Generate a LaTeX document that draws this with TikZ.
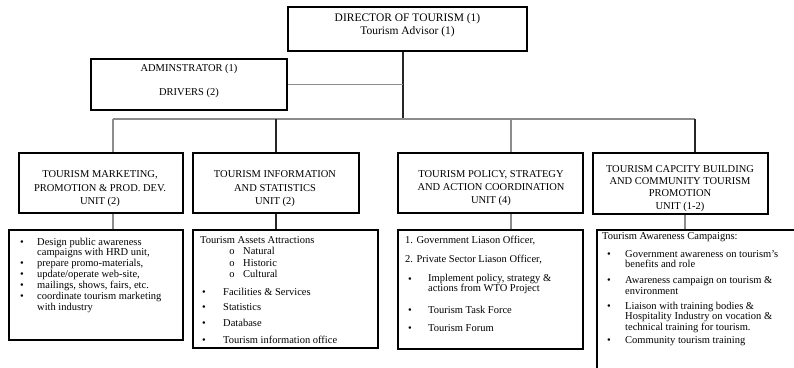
\documentclass[tikz,border=0pt]{standalone}
\usepackage{fontspec}
\setmainfont{Liberation Serif}
\begin{document}
\begin{tikzpicture}[x=1pt,y=-1pt,
 box/.style={draw=black, line width=1.5pt, rectangle, inner sep=0pt},
 dirtxt/.style={font=\fontsize{11.5}{12}\selectfont, anchor=mid, inner sep=0pt},
 hd/.style={font=\fontsize{10.5}{12}\selectfont, anchor=mid, inner sep=0pt},
 tx/.style={font=\fontsize{10.5}{11}\selectfont, anchor=mid west, inner sep=0pt},
 bl/.style={font=\fontsize{10.5}{11}\selectfont, anchor=mid, inner sep=0pt},
 gline/.style={draw=black!45, line width=1.5pt},
 kline/.style={draw=black!85, line width=1.2pt}]
\clip (0,0) rectangle (794,367);
\fill[white] (0,0) rectangle (794,367);

% boxes
\node[box, minimum width=239pt, minimum height=44pt] (dir) at (407.5,29) {};
\node[box, minimum width=196pt, minimum height=51pt] (adm) at (189,84.5) {};
\node[box, minimum width=164pt, minimum height=60pt] (u1) at (101,183) {};
\node[box, minimum width=166pt, minimum height=60pt] (u2) at (276,183) {};
\node[box, minimum width=185pt, minimum height=60pt] (u3) at (490.5,183) {};
\node[box, minimum width=175pt, minimum height=61pt] (u4) at (680.5,183.5) {};
\node[box, minimum width=174pt, minimum height=110pt] (b1) at (96,285) {};
\node[box, minimum width=185pt, minimum height=118pt] (b2) at (285.5,289) {};
\node[box, minimum width=185pt, minimum height=119pt] (b3) at (490.5,289.5) {};
\node[box, minimum width=213pt, minimum height=160pt] (b4) at (703.5,310) {};

% connectors
\coordinate (dl) at (403,119);
\coordinate (j1) at (113,119);
\coordinate (j2) at (276,119);
\coordinate (j3) at (511,119);
\coordinate (j4) at (695,119);
\coordinate (k4) at (685,222);
\draw[kline] (dir.south -| dl) -- (dl);
\draw[gline] (adm.east) -- (adm.east -| dl);
\draw[gline] (j1) -- (j4);
\draw[gline] (j1) -- (j1 |- u1.north);
\draw[kline] (j2) -- (j2 |- u2.north);
\draw[gline] (j3) -- (j3 |- u3.north);
\draw[kline] (j4) -- (j4 |- u4.north);
\draw[gline] (u1.south -| j1) -- (b1.north -| j1);
\draw[kline] (u2.south -| j2) -- (b2.north -| j2);
\draw[gline] (u3.south -| j3) -- (b3.north -| j3);
\draw[gline] (u4.south -| k4) -- (b4.north -| k4);

% top texts
\node[dirtxt] (dir1) at (407.5,19) {DIRECTOR OF TOURISM (1)};
\node[dirtxt] (dir2) at (407.5,32) {Tourism Advisor (1)};
\node[hd] (adm1) at (189,69) {ADMINSTRATOR (1)};
\node[hd] (adm2) at (189,93) {DRIVERS (2)};

% unit headers
\node[hd] (u1a) at (100,175) {TOURISM MARKETING,};
\node[hd] (u1b) at (100,189) {PROMOTION \& PROD. DEV.};
\node[hd] (u1c) at (100,202) {UNIT (2)};
\node[hd] (u2a) at (275,175) {TOURISM INFORMATION};
\node[hd] (u2b) at (275,189) {AND STATISTICS};
\node[hd] (u2c) at (275,202) {UNIT (2)};
\node[hd] (u3a) at (491,175) {TOURISM POLICY, STRATEGY};
\node[hd] (u3b) at (491,188) {AND ACTION COORDINATION};
\node[hd] (u3c) at (491,201) {UNIT (4)};
\node[hd] (u4a) at (680,170) {TOURISM CAPCITY BUILDING};
\node[hd] (u4b) at (680,182) {AND COMMUNITY TOURISM};
\node[hd] (u4c) at (680,194) {PROMOTION};
\node[hd] (u4d) at (680,207) {UNIT (1-2)};

% box 1
\node[bl] (p1) at (22,243) {•};
\node[tx] (t1a) at (37,243) {Design public awareness};
\node[tx] (t1b) at (37,253.5) {campaigns with HRD unit,};
\node[bl] (p2) at (22,264.5) {•};
\node[tx] (t1c) at (37,264.5) {prepare promo-materials,};
\node[bl] (p3) at (22,275.5) {•};
\node[tx] (t1d) at (37,275.5) {update/operate web-site,};
\node[bl] (p4) at (22,286.5) {•};
\node[tx] (t1e) at (37,286.5) {mailings, shows, fairs, etc.};
\node[bl] (p5) at (22,297.5) {•};
\node[tx] (t1f) at (37,297.5) {coordinate tourism marketing};
\node[tx] (t1g) at (37,308) {with industry};

% box 2
\node[tx] (t2a) at (200,241) {Tourism Assets Attractions};
\node[bl] (o1) at (232,252.5) {o};
\node[tx] (t2b) at (243,252.5) {Natural};
\node[bl] (o2) at (232,264) {o};
\node[tx] (t2c) at (243,264) {Historic};
\node[bl] (o3) at (232,275.5) {o};
\node[tx] (t2d) at (243,275.5) {Cultural};
\node[bl] (q1) at (204,293) {•};
\node[tx] (t2e) at (223,293) {Facilities \& Services};
\node[bl] (q2) at (204,308) {•};
\node[tx] (t2f) at (223,308) {Statistics};
\node[bl] (q3) at (204,324) {•};
\node[tx] (t2g) at (223,324) {Database};
\node[bl] (q4) at (204,341) {•};
\node[tx] (t2h) at (223,341) {Tourism information office};

% box 3
\node[tx] (t3a) at (405,241) {1. Government Liason Officer,};
\node[tx] (t3b) at (405,260) {2. Private Sector Liason Officer,};
\node[bl] (r1) at (410,280) {•};
\node[tx] (t3c) at (428,279) {Implement policy, strategy \&};
\node[tx] (t3d) at (428,289.5) {actions from WTO Project};
\node[bl] (r2) at (410,311) {•};
\node[tx] (t3e) at (428,311) {Tourism Task Force};
\node[bl] (r3) at (410,329) {•};
\node[tx] (t3f) at (428,329) {Tourism Forum};

% box 4
\node[tx] (t4a) at (602,237) {Tourism Awareness Campaigns:};
\node[bl] (s1) at (609,255) {•};
\node[tx] (t4b) at (625,255) {Government awareness on tourism's};
\node[tx] (t4c) at (625,265.5) {benefits and role};
\node[bl] (s2) at (609,281.5) {•};
\node[tx] (t4d) at (625,281.5) {Awareness campaign on tourism \&};
\node[tx] (t4e) at (625,292) {environment};
\node[bl] (s3) at (609,307) {•};
\node[tx] (t4f) at (625,307) {Liaison with training bodies \&};
\node[tx] (t4g) at (625,317.5) {Hospitality Industry on vocation \&};
\node[tx] (t4h) at (625,328) {technical training for tourism.};
\node[bl] (s4) at (609,341.5) {•};
\node[tx] (t4i) at (625,341.5) {Community tourism training};
\end{tikzpicture}
\end{document}
